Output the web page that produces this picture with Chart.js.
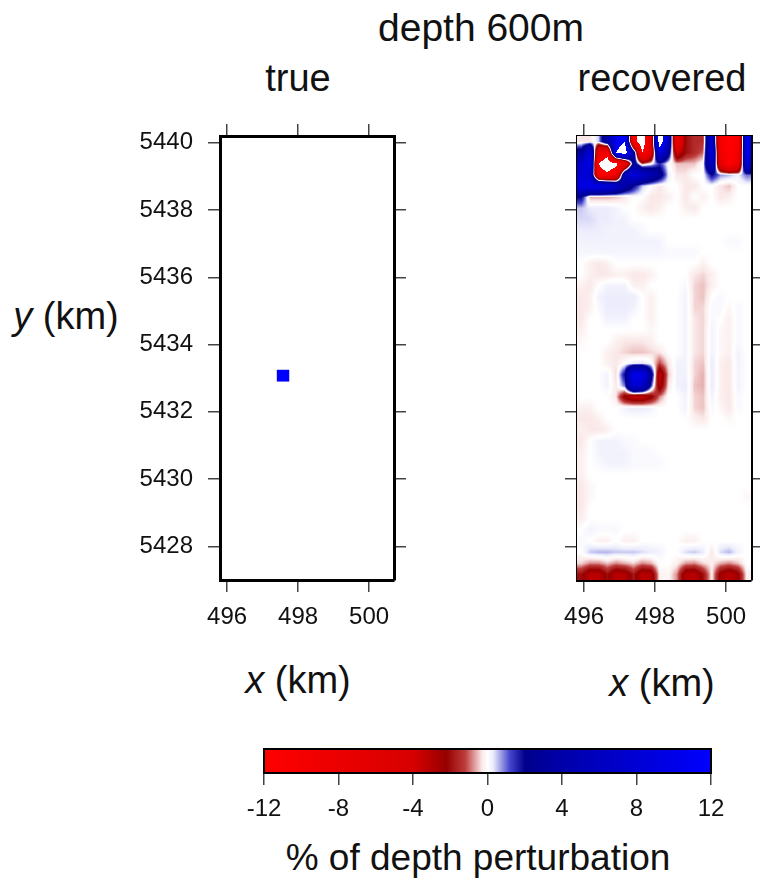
<!DOCTYPE html>
<html>
<head>
<meta charset="utf-8">
<script src="https://cdn.jsdelivr.net/npm/chart.js@4.4.1/dist/chart.umd.min.js"></script>
<style>
html, body { margin: 0; padding: 0; background: #fff; overflow: hidden; }
body { width: 760px; height: 878px; position: relative; font-family: "Liberation Sans", Arial, sans-serif; color: #111; }
.lbl { position: absolute; transform: translate(-50%, -50%); white-space: nowrap; line-height: 1; }
canvas { position: absolute; }
</style>
</head>
<body>
<div class="lbl" style="left:481px;top:27px;font-size:39px">depth 600m</div>
<div class="lbl" style="left:298px;top:78px;font-size:38px">true</div>
<div class="lbl" style="left:662px;top:78px;font-size:38px">recovered</div>
<div class="lbl" style="left:66px;top:316px;font-size:38px"><i>y</i> (km)</div>
<div class="lbl" style="left:298px;top:680px;font-size:38px"><i>x</i> (km)</div>
<div class="lbl" style="left:662px;top:683px;font-size:38px"><i>x</i> (km)</div>
<div class="lbl" style="left:478px;top:857px;font-size:37px">% of depth perturbation</div>

<canvas id="trueChart" width="330" height="560" style="left:100px;top:100px"></canvas>
<canvas id="recChart" width="300" height="560" style="left:460px;top:100px"></canvas>
<canvas id="barChart" width="540" height="100" style="left:220px;top:740px"></canvas>

<script>
// axes (km)
const xMin = 495.8, xMax = 500.7;
const yMin = 5427.0, yMax = 5440.2;
const xTicks = [496, 498, 500];
const yTicks = [5428, 5430, 5432, 5434, 5436, 5438, 5440];
const barTicks = [-12, -8, -4, 0, 4, 8, 12];

// true model: one small anomaly box (km, %)
const trueBox = { x0: 497.4, x1: 497.75, y0: 5432.9, y1: 5433.25, v: 12 };

// recovered model: 20 columns (west->east), 40 rows (north->south)
const gridX0 = 495.8, gridDx = 0.245;
const gridYTop = 5440.2, gridDy = 0.33;
const recoveredGrid = [
  [-0.3,-0.3,0.5,4,10,12,-10,-15,-6,15,6,-8,-2,-1.5,-1.5,8,-10,-12,-11,10],
  [3,9,-8,-10,12,15,4,-12,-6,9,3,-4,-2,-1.5,-1,9,-9,-12,-10,10],
  [7,10,-12,-15,-13,-9,3,-1,0,1.5,0,-0.5,-0.5,-0.5,0,7,-7,-12,-8,8],
  [8,8,-10,-11,-9,6,9,7,5,3,0.3,-0.3,-0.3,0,0,2,0.8,0.6,0.2,1],
  [9,10,10,9,7,4,2,0.5,0,-0.3,0,0,-0.3,-0.3,0,0,-0.3,-0.5,0,0],
  [2,-0.6,-0.6,-0.6,-0.5,-0.3,0,0,-0.3,-0.3,-0.2,0,-0.3,0,-0.2,0,-0.3,-0.2,0,0],
  [0.5,0.3,0.3,0.3,0.2,0,0,-0.2,-0.3,-0.2,0,0,-0.2,-0.3,0,0,0,0,0,0],
  [0.4,0.4,0.3,0.3,0.2,0.2,0,0,0,0,0,0,0,0,0,0,0,0,0,0],
  [0.3,0.3,0.3,0.2,0.2,0.2,0.2,0.1,0,0,0,0,0,0,0,0,0,0,0,0],
  [0.2,0.2,0.2,0.2,0.2,0.2,0.2,0.2,0.2,0.2,0,0,0,0,0,0,0,0.1,0.1,0],
  [0.15,0.15,0.15,0.15,0.15,0.15,0.15,0.15,0.15,0.15,0.1,0.1,0.1,0.1,0,0,0,0,0,0],
  [0,-0.2,-0.3,-0.2,0,0,0,0,0,0,0,0,0,0,-0.2,0,0,0,0,0],
  [0,-0.2,-0.3,-0.3,-0.2,-0.2,-0.3,-0.3,-0.2,0,0,0,0,-0.3,-0.4,-0.2,0,0,0,0],
  [-0.2,-0.3,0,0.2,0.2,0.2,-0.2,-0.2,0,0,0,0,0.1,-0.4,-0.5,-0.2,0,0,0,0],
  [-0.3,-0.2,0.2,0.3,0.3,0.3,0.3,0,-0.2,0,0,0,0.2,-0.4,-0.5,0,0.1,0,0,0],
  [-0.3,-0.2,0.1,0.3,0.3,0.3,0.2,0,-0.2,0,0,0,0.2,-0.4,-0.4,0.1,0.1,-0.1,0.1,0],
  [-0.3,0,0,0.2,0.2,0.2,0,0,-0.2,0,0,0,0.2,-0.3,-0.4,0.1,0,-0.2,0.1,0],
  [-0.2,0,0,0,0,0,0,0,-0.1,0,0,0,0.2,-0.3,-0.4,0.2,-0.1,-0.2,0.1,0],
  [-0.1,0,0,0,-0.2,-0.3,-0.3,-0.3,-0.2,0,0,0,0.2,-0.3,-0.4,0.2,-0.1,-0.2,0.1,0],
  [0,0,0,-0.2,-0.3,-0.4,-0.5,-0.5,-0.4,-0.3,0,0,0.2,-0.3,-0.4,0.2,-0.1,-0.2,0.2,0],
  [0,0,0,-0.2,-0.3,0,0.3,0.4,0.1,-1.2,-0.3,0.2,0.2,-0.4,-0.5,0.3,-0.2,-0.3,0.2,0],
  [0,0,0,0.2,-0.4,2,10,10,3,-3.5,-0.5,0.2,0.2,-0.4,-0.6,0.3,-0.2,-0.3,0.2,0],
  [0,0,0,0.2,-0.3,1,8,7,1.5,-3,-0.3,0.2,0.3,-0.5,-0.6,0.3,-0.2,-0.3,0.2,0],
  [0,0,0,0,-0.3,-2.5,-3.5,-3.5,-2.5,-0.8,0,0,0.2,-0.4,-0.5,0.2,-0.2,-0.3,0.1,0],
  [-0.2,-0.2,0,0,0,0.2,0.3,0.3,0.2,0,0,0,0.2,-0.4,-0.5,0.1,-0.1,-0.3,0.1,0],
  [-0.3,-0.3,-0.2,0,0,0,0,0,0,0,0,0,0,-0.2,-0.3,0,0,-0.1,0,0],
  [-0.2,-0.3,-0.3,-0.2,0,0,0,0,0,0,0,0,0,0,0,0,0,0,0,0],
  [-0.3,0,0.2,0.2,0.2,0.1,0.1,0,0,0,0,0,0,0,0,0,0,0,0,0],
  [-0.2,0,0.2,0.2,0.2,0.2,0.1,0.1,0.1,0,0,0,0,0,0,0,0,0,0,0],
  [-0.2,0,0.1,0.2,0.2,0.2,0.1,0.1,0.1,0.1,0,0,0,0,0,0,0,0,0,0],
  [-0.2,0,0,0,0,0,0,0,0,0,0,0,0,0,0,0,0,0,0,0],
  [-0.3,-0.1,0,0,0,0,0,0,0,0,0,0,0,0,0,0,0,0,0,0],
  [-0.3,-0.1,0,0,0,0,0,0,0,0,0,0,0,0,0,0,0,0,0,-0.1],
  [-0.3,0,0,0,0,0,0,0,0,0,0,0,0,0,0,0,0,0,0,0],
  [-0.2,0,0,0,0,0,0,0,0,0,0,0,0,0,0,0,0,0,0,0],
  [0,0.2,0.1,0.1,0.1,0,0,0,0,0,0,0,0,0,0,0,0,0,0,0],
  [0.1,0,-0.2,-0.2,0,-0.2,-0.2,0,0,0,0,0,-0.2,-0.2,0,0,0,0,0,0],
  [0,0.5,0.6,0.6,0.5,0.5,0.5,0.4,0.3,0.2,0,0,0.4,0.5,0.3,-0.3,0.4,0.6,0.2,0],
  [-0.4,-0.8,-0.8,-0.5,-0.8,-0.6,-0.4,-0.8,-0.6,0,0,-0.2,-0.7,-0.8,-0.4,-0.2,-0.6,-0.8,-0.5,0],
  [-2,-3.2,-3.2,-2,-3.2,-3,-1.8,-3.2,-3,-0.2,-0.1,-0.8,-3,-3.2,-2,-0.2,-2.5,-3.2,-2.5,-0.2]
];

// colour scale (% perturbation -> rgb)
const cmapStops = [-12, -4, -2.2, -1.2, -0.3, 0, 0.3, 1.2, 2, 4, 12];
const cmapColors = [
  [255,0,0], [215,0,0], [150,0,0], [190,60,60], [250,232,232], [255,255,255],
  [236,236,252], [70,70,205], [0,0,140], [0,0,170], [0,0,255]
];

function rgbFor(v) {
  if (Math.abs(v) > 12) return [255, 255, 255]; // beyond the scale shows blank
  let k = 0;
  while (k < cmapStops.length - 2 && v > cmapStops[k + 1]) k++;
  const t = (v - cmapStops[k]) / (cmapStops[k + 1] - cmapStops[k]);
  const a = cmapColors[k], b = cmapColors[k + 1];
  return a.map((ch, i) => Math.round(ch + (b[i] - ch) * t));
}
const colorFor = v => { const c = rgbFor(v); return `rgb(${c[0]},${c[1]},${c[2]})`; };

// value of the grid at a map position, shaded smoothly between cell centres
function gridValueAt(g, xv, yv) {
  const rows = g.values.length, cols = g.values[0].length;
  const fi = Math.min(Math.max((xv - g.x0) / g.dx - 0.5, 0), cols - 1);
  const fj = Math.min(Math.max((g.yTop - yv) / g.dy - 0.5, 0), rows - 1);
  const i0 = Math.floor(fi), j0 = Math.floor(fj);
  const i1 = Math.min(i0 + 1, cols - 1), j1 = Math.min(j0 + 1, rows - 1);
  const ti = fi - i0, tj = fj - j0;
  const r0 = g.values[j0][i0] * (1 - ti) + g.values[j0][i1] * ti;
  const r1 = g.values[j1][i0] * (1 - ti) + g.values[j1][i1] * ti;
  return r0 * (1 - tj) + r1 * tj;
}

// draws cells / shaded grid through the chart scales
const cellPlugin = {
  id: 'cells',
  beforeDatasetsDraw(chart, args, opts) {
    const {ctx, chartArea: a, scales: {x, y}} = chart;
    ctx.save();
    ctx.beginPath();
    ctx.rect(a.left, a.top, a.right - a.left, a.bottom - a.top);
    ctx.clip();
    if (opts.grid) {
      const g = opts.grid;
      const left = Math.floor(a.left), top = Math.floor(a.top);
      const w = Math.ceil(a.right) - left, h = Math.ceil(a.bottom) - top;
      const img = document.createElement('canvas');
      img.width = w;
      img.height = h;
      const ictx = img.getContext('2d');
      const data = ictx.createImageData(w, h);
      for (let py = 0; py < h; py++) {
        const yv = y.getValueForPixel(top + py + 0.5);
        for (let px = 0; px < w; px++) {
          const xv = x.getValueForPixel(left + px + 0.5);
          const c = rgbFor(gridValueAt(g, xv, yv));
          const k = (py * w + px) * 4;
          data.data[k] = c[0]; data.data[k + 1] = c[1]; data.data[k + 2] = c[2]; data.data[k + 3] = 255;
        }
      }
      ictx.putImageData(data, 0, 0);
      ctx.drawImage(img, left, top);
    }
    (opts.cells || []).forEach(c => {
      const px0 = x.getPixelForValue(c.x0), px1 = x.getPixelForValue(c.x1);
      const py0 = y.getPixelForValue(c.y1), py1 = y.getPixelForValue(c.y0);
      ctx.fillStyle = colorFor(c.v);
      ctx.fillRect(px0, py0, px1 - px0, py1 - py0);
    });
    ctx.restore();
  }
};

const tickFont = {family: '"Liberation Sans", Arial, sans-serif', size: 24};
const tickGrid = {drawOnChartArea: false, drawTicks: true, tickLength: 12, color: '#444', lineWidth: 1.5};
const boxBorder = {display: true, color: '#000', width: 3};

function fixSize(prop, val) {
  return s => {
    s[prop] = val;
    s.paddingLeft = s.paddingRight = s.paddingTop = s.paddingBottom = 0;
  };
}

function panelScales(showY, leftW, rightW) {
  const setX = s => { s.ticks = xTicks.map(v => ({value: v})); };
  const setY = s => { s.ticks = yTicks.map(v => ({value: v})); };
  return {
    x: {
      type: 'linear', position: 'bottom', min: xMin, max: xMax,
      afterBuildTicks: setX, afterFit: fixSize('height', 80),
      grid: tickGrid, border: boxBorder,
      ticks: {font: tickFont, color: '#111', padding: 11, maxRotation: 0, callback: v => String(v)}
    },
    xTop: {
      type: 'linear', position: 'top', min: xMin, max: xMax,
      afterBuildTicks: setX, afterFit: fixSize('height', 36),
      grid: tickGrid, border: boxBorder, ticks: {display: false}
    },
    y: {
      type: 'linear', position: 'left', min: yMin, max: yMax,
      afterBuildTicks: setY, afterFit: fixSize('width', leftW),
      grid: tickGrid, border: boxBorder,
      ticks: {display: showY, font: tickFont, color: '#111', padding: 15, callback: v => String(v)}
    },
    yRight: {
      type: 'linear', position: 'right', min: yMin, max: yMax,
      afterBuildTicks: setY, afterFit: fixSize('width', rightW),
      grid: tickGrid, border: boxBorder, ticks: {display: false}
    }
  };
}

const baseOptions = {
  responsive: false,
  animation: false,
  events: [],
  layout: {padding: 0},
  plugins: {legend: {display: false}, tooltip: {enabled: false}}
};

new Chart(document.getElementById('trueChart'), {
  type: 'scatter',
  data: {datasets: []},
  plugins: [cellPlugin],
  options: {
    ...baseOptions,
    scales: panelScales(true, 120, 36),
    plugins: {...baseOptions.plugins, cells: {cells: [trueBox]}}
  }
});

new Chart(document.getElementById('recChart'), {
  type: 'scatter',
  data: {datasets: []},
  plugins: [cellPlugin],
  options: {
    ...baseOptions,
    scales: panelScales(false, 117, 9),
    plugins: {...baseOptions.plugins, cells: {
      grid: {values: recoveredGrid, x0: gridX0, dx: gridDx, yTop: gridYTop, dy: gridDy}
    }}
  }
});

// colour bar
const colorBarPlugin = {
  id: 'colorBar',
  beforeDatasetsDraw(chart) {
    const {ctx, chartArea: a, scales: {x}} = chart;
    const p0 = x.getPixelForValue(-12), p1 = x.getPixelForValue(12);
    const grad = ctx.createLinearGradient(p0, 0, p1, 0);
    cmapStops.forEach((s, i) => {
      const c = cmapColors[i];
      grad.addColorStop((x.getPixelForValue(s) - p0) / (p1 - p0), `rgb(${c[0]},${c[1]},${c[2]})`);
    });
    ctx.save();
    ctx.fillStyle = grad;
    ctx.fillRect(a.left, a.top, a.right - a.left, a.bottom - a.top);
    ctx.strokeStyle = '#000';
    ctx.lineWidth = 2;
    ctx.strokeRect(a.left, a.top, a.right - a.left, a.bottom - a.top);
    ctx.restore();
  }
};

new Chart(document.getElementById('barChart'), {
  type: 'scatter',
  data: {datasets: []},
  plugins: [colorBarPlugin],
  options: {
    ...baseOptions,
    layout: {padding: {left: 44, right: 49, top: 9, bottom: 0}},
    scales: {
      x: {
        type: 'linear', position: 'bottom', min: -12, max: 12,
        afterBuildTicks: s => { s.ticks = barTicks.map(v => ({value: v})); },
        afterFit: fixSize('height', 67),
        grid: {drawOnChartArea: false, drawTicks: true, tickLength: 12, color: '#444', lineWidth: 1.5},
        border: {display: false},
        ticks: {font: tickFont, color: '#111', padding: 10, maxRotation: 0, callback: v => String(v)}
      },
      y: {type: 'linear', display: false, min: 0, max: 1}
    }
  }
});
</script>
</body>
</html>
